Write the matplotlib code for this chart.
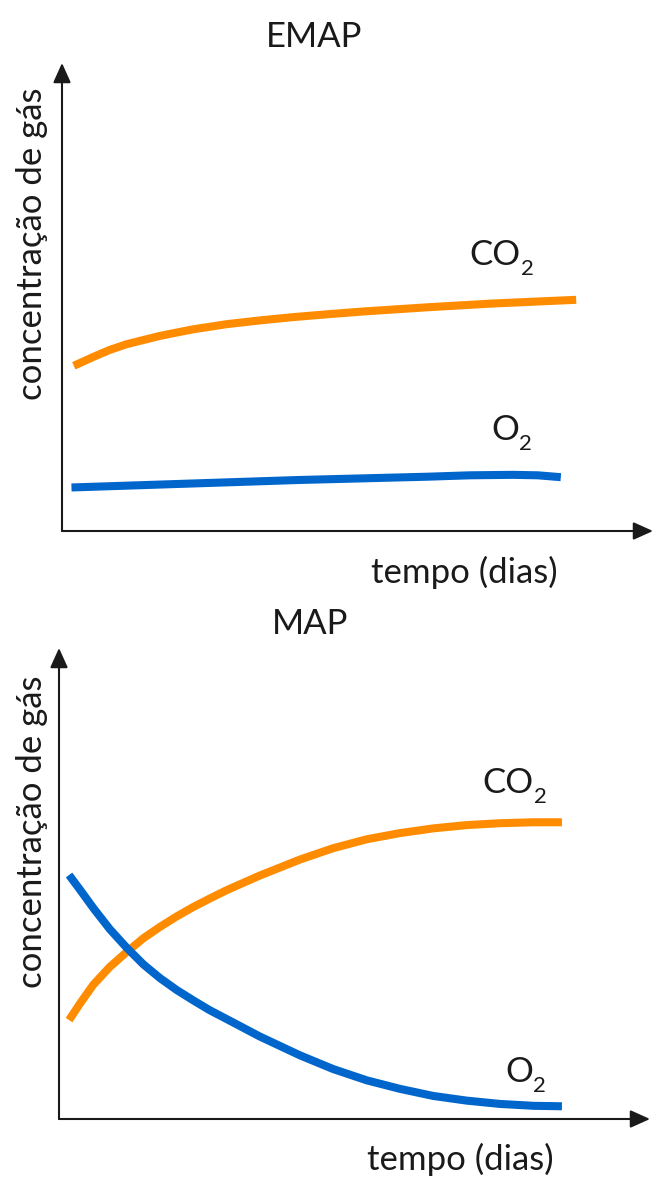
import matplotlib
matplotlib.use("Agg")
import matplotlib.pyplot as plt

plt.rcParams['font.family'] = ['Lato', 'DejaVu Sans']

# ---- data (arbitrary units: time 0..10, concentration 0..10) ----
emap_co2_t = [0.20, 0.53, 0.81, 1.09, 1.66, 2.22, 2.79, 3.35, 3.91, 4.48,
              5.09, 6.18, 7.27, 8.70]
emap_co2_c = [3.53, 3.72, 3.87, 3.99, 4.17, 4.31, 4.42, 4.50, 4.57, 4.63,
              4.69, 4.78, 4.86, 4.94]
emap_o2_t = [0.16, 1.84, 4.01, 6.18, 6.90, 7.63, 8.05, 8.44]
emap_o2_c = [0.93, 1.00, 1.09, 1.16, 1.19, 1.20, 1.19, 1.15]

map_t = [0.17, 0.36, 0.58, 0.86, 1.15, 1.43, 1.71, 1.99, 2.27, 2.55, 2.84,
         3.40, 4.08, 4.64, 5.21, 5.77, 6.33, 6.90, 7.46, 8.03, 8.51]
map_co2_c = [2.10, 2.46, 2.85, 3.23, 3.55, 3.84, 4.08, 4.30, 4.50, 4.68, 4.86,
             5.17, 5.51, 5.75, 5.94, 6.07, 6.17, 6.24, 6.28, 6.30, 6.30]
map_o2_c = [5.18, 4.86, 4.48, 4.03, 3.63, 3.28, 2.99, 2.74, 2.52, 2.31, 2.12,
            1.75, 1.35, 1.06, 0.82, 0.64, 0.49, 0.39, 0.32, 0.28, 0.27]

titles = ["EMAP", "MAP"]
xlabel = "tempo (dias)"
ylabel = "concentração de gás"
gas_names = ["CO", "O"]
subscript = "2"

ORANGE = "#FF8C00"
BLUE = "#0066CC"
INK = "#1a1a1a"

W, H = 670, 1179
fig = plt.figure(figsize=(W / 100, H / 100), dpi=100)


def fx(px):
    return px / W


def fy(py):
    return 1 - py / H


def make_axes(x0, x1, ybot, ytop):
    ax = fig.add_axes([fx(x0), fy(ybot), (x1 - x0) / W, (ybot - ytop) / H])
    ax.set_xlim(0, 10)
    ax.set_ylim(0, 10)
    ax.axis('off')
    ap = dict(arrowstyle='-|>,head_length=0.6,head_width=0.27', color=INK,
              lw=1.5, mutation_scale=20, shrinkA=0, shrinkB=0)
    ax.annotate('', xy=(1, 0), xytext=(0, 0), xycoords='axes fraction',
                textcoords='axes fraction', arrowprops=ap, annotation_clip=False)
    ax.annotate('', xy=(0, 1), xytext=(0, 0), xycoords='axes fraction',
                textcoords='axes fraction', arrowprops=ap, annotation_clip=False)
    return ax


LW = 5.8
FS = 25
FS_SUB = 16
line_kw = dict(lw=LW, solid_capstyle='butt', solid_joinstyle='round')


def gas_label(px, py, name):
    t = fig.text(fx(px), fy(py), name, fontsize=FS, color=INK, ha='left', va='baseline')
    fig.canvas.draw()
    bb = t.get_window_extent()
    fig.text(bb.x1 / W + 0.5 / W, fy(py + 10), subscript, fontsize=FS_SUB, color=INK,
             ha='left', va='baseline')


# ---- top panel: EMAP ----
ax1 = make_axes(62, 653, 531, 63)
ax1.plot(emap_co2_t, emap_co2_c, color=ORANGE, **line_kw)
ax1.plot(emap_o2_t, emap_o2_c, color=BLUE, **line_kw)
fig.text(fx(314), fy(37), titles[0], fontsize=FS, color=INK, ha='center', va='center')
fig.text(fx(32), fy(244), ylabel, fontsize=FS, color=INK, ha='center', va='center', rotation=90)
fig.text(fx(464), fy(572), xlabel, fontsize=FS, color=INK, ha='center', va='center')
gas_label(469, 265, gas_names[0])
gas_label(491, 440, gas_names[1])

# ---- bottom panel: MAP ----
ax2 = make_axes(59, 650, 1119, 648)
ax2.plot(map_t, map_co2_c, color=ORANGE, **line_kw)
ax2.plot(map_t, map_o2_c, color=BLUE, **line_kw)
fig.text(fx(310), fy(624), titles[1], fontsize=FS, color=INK, ha='center', va='center')
fig.text(fx(32), fy(832), ylabel, fontsize=FS, color=INK, ha='center', va='center', rotation=90)
fig.text(fx(460), fy(1159), xlabel, fontsize=FS, color=INK, ha='center', va='center')
gas_label(482, 793, gas_names[0])
gas_label(505, 1082, gas_names[1])

fig.savefig("out.png", dpi=100, facecolor='white')
